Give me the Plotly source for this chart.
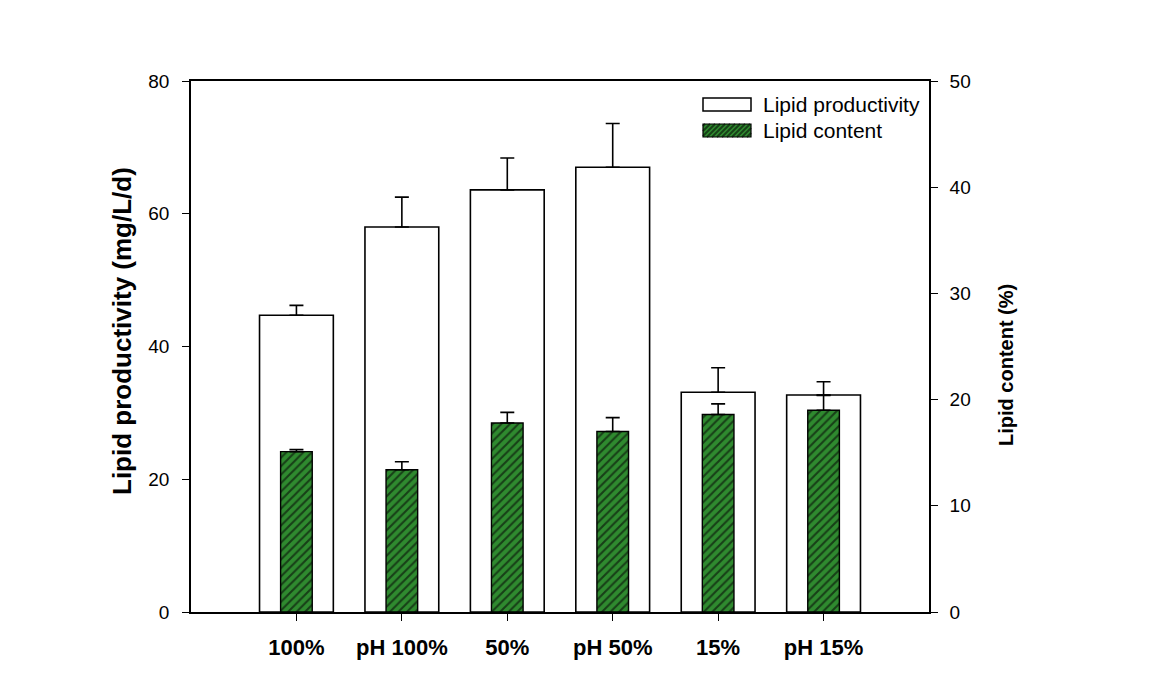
import plotly.graph_objects as go

# data
categories = ["100%", "pH 100%", "50%", "pH 50%", "15%", "pH 15%"]
productivity = [44.7, 58.0, 63.6, 67.0, 33.1, 32.7]
productivity_err = [1.5, 4.5, 4.8, 6.6, 3.7, 2.0]
content = [15.1, 13.4, 17.8, 17.0, 18.6, 19.0]
content_err = [0.2, 0.75, 1.0, 1.3, 1.0, 1.4]

W, H = 1170, 685
OFF = 8  # page body margin
ML, MR, MT, MB = 191 - OFF, 241 + OFF, 81 - OFF, 73 + OFF
GREEN = "#2f8a2f"
STRIPE = "#173f17"
FONT = "Arial, Liberation Sans, sans-serif"

fig = go.Figure()

fig.add_trace(go.Bar(
    x=categories, y=productivity, name="Lipid productivity",
    width=0.7,
    marker=dict(color="white", line=dict(color="black", width=1.6)),
    error_y=dict(type="data", array=productivity_err, symmetric=False,
                 arrayminus=[0] * len(productivity_err),
                 color="black", thickness=1.6, width=7),
    showlegend=False,
))

fig.add_trace(go.Bar(
    x=categories, y=content, name="Lipid content", yaxis="y2",
    width=0.3,
    marker=dict(color=GREEN, line=dict(color="black", width=1.4),
                pattern=dict(shape="/", fgcolor=STRIPE, bgcolor=GREEN,
                             size=6, solidity=0.35, fillmode="replace")),
    error_y=dict(type="data", array=content_err, symmetric=False,
                 arrayminus=[0] * len(content_err),
                 color="black", thickness=1.6, width=7),
    showlegend=False,
))


# helpers for the hand-drawn legend (screen pixel -> paper)
pw, ph = W - ML - MR, H - MT - MB


def px(xp):
    return (xp - OFF - ML) / pw


def py(yp):
    return (H - MB - (yp - OFF)) / ph


shapes = []
# white box
shapes.append(dict(type="rect", xref="paper", yref="paper",
                   x0=px(703), x1=px(751), y0=py(111), y1=py(98),
                   fillcolor="white", line=dict(color="black", width=1.5)))
# green hatched box
bx0, bx1, by0, by1 = 703, 751, 124, 137
shapes.append(dict(type="rect", xref="paper", yref="paper",
                   x0=px(bx0), x1=px(bx1), y0=py(by1), y1=py(by0),
                   fillcolor=GREEN, line=dict(width=0)))
path = ""
k = bx0 + by0 + 2
while k < bx1 + by1:
    xa = max(bx0, k - by1)
    xb = min(bx1, k - by0)
    if xb > xa:
        path += f"M{px(xa)},{py(k - xa)} L{px(xb)},{py(k - xb)} "
    k += 5
shapes.append(dict(type="path", xref="paper", yref="paper", path=path,
                   line=dict(color=STRIPE, width=1.8)))
shapes.append(dict(type="rect", xref="paper", yref="paper",
                   x0=px(bx0), x1=px(bx1), y0=py(by1), y1=py(by0),
                   line=dict(color="black", width=1.2)))

annotations = [
    dict(text="Lipid productivity", x=px(761), y=py(104.5), xref="paper", yref="paper",
         xanchor="left", yanchor="middle", showarrow=False,
         font=dict(family=FONT, size=21, color="black")),
    dict(text="Lipid content", x=px(761), y=py(130.5), xref="paper", yref="paper",
         xanchor="left", yanchor="middle", showarrow=False,
         font=dict(family=FONT, size=21, color="black")),
    dict(text="<b>Lipid productivity (mg/L/d)</b>", x=px(122), y=py(331),
         xref="paper", yref="paper", textangle=-90, showarrow=False,
         xanchor="center", yanchor="middle",
         font=dict(family=FONT, size=26, color="black")),
    dict(text="<b>Lipid content (%)</b>", x=px(1006), y=py(365),
         xref="paper", yref="paper", textangle=-90, showarrow=False,
         xanchor="center", yanchor="middle",
         font=dict(family=FONT, size=20, color="black")),
]

axis_common = dict(showline=True, linecolor="black", linewidth=1.6,
                   ticks="outside", ticklen=7, tickwidth=1.4, tickcolor="black",
                   showgrid=False, zeroline=False)

fig.update_layout(
    width=W, height=H,
    margin=dict(l=ML, r=MR, t=MT, b=MB),
    plot_bgcolor="white", paper_bgcolor="white",
    barmode="overlay",
    font=dict(family=FONT, color="black"),
    xaxis=dict(**axis_common, mirror=True, type="category", range=[-1, 6],
               tickfont=dict(family=FONT, size=22, weight="bold"),
               ticklabelstandoff=8),
    yaxis=dict(**axis_common, range=[0, 80], dtick=20,
               tickfont=dict(family=FONT, size=19), ticklabelstandoff=9),
    yaxis2=dict(**axis_common, range=[0, 50], dtick=10, overlaying="y",
                side="right", tickfont=dict(family=FONT, size=19),
                ticklabelstandoff=8),
    shapes=shapes,
    annotations=annotations,
)

fig.write_html("out.html")
